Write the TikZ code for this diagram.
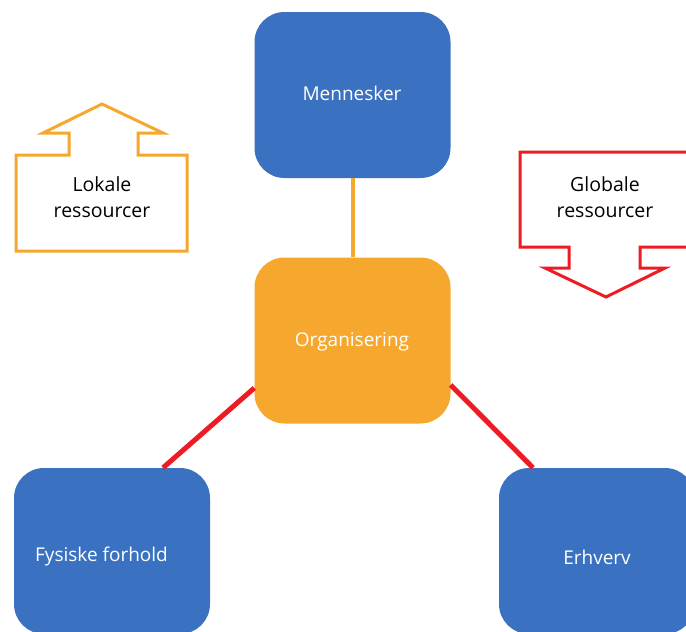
\documentclass[tikz,border=0pt]{standalone}
\usepackage{fontspec}
\setmainfont{Open Sans}
\definecolor{boxblue}{RGB}{58,114,193}
\definecolor{boxorange}{RGB}{246,167,45}
\definecolor{linered}{RGB}{237,28,36}
\begin{document}
\begin{tikzpicture}[x=1pt,y=-1pt,
  box/.style={rounded corners=30pt, minimum width=196pt, minimum height=166pt, inner sep=0pt},
  bluebox/.style={box, fill=boxblue},
  orangebox/.style={box, fill=boxorange},
  boxlabel/.style={text=white, font=\fontsize{19}{23}\selectfont, inner sep=0pt},
  arrowlabel/.style={text=black, font=\fontsize{19.5}{26}\selectfont, align=center, inner sep=0pt},
  redline/.style={draw=linered, line width=5pt},
  orangeline/.style={draw=boxorange, line width=4pt},
  bigarrow/.style={line width=3pt, line join=miter}
]
\useasboundingbox (0,0) rectangle (686,632);
% boxes
\node[bluebox] (M) at (352.5,95) {};
\node[orangebox] (O) at (352.5,340.5) {};
\node[bluebox] (F) at (112,551) {};
\node[bluebox] (E) at (597,551) {};
% labels
\node[boxlabel] (Mt) at (352,93) {Mennesker};
\node[boxlabel] (Ot) at (352,342) {Organisering};
\node[boxlabel] (Ft) at (101.5,557) {Fysiske forhold};
\node[boxlabel] (Et) at (597,557) {Erhverv};
% connectors
\draw[orangeline] (M.south) -- (O.north);
\draw[redline] ([yshift=-47.5pt]O.west) -- ([xshift=51pt]F.north);
\draw[redline] ([yshift=-44.5pt]O.east) -- ([xshift=-64pt]E.north);
% local resources arrow (up)
\draw[bigarrow, draw=boxorange] (16,155) -- (69,155) -- (69,133) -- (43,133) -- (102,104) -- (163,133) -- (138,133) -- (138,155) -- (187,155) -- (187,251) -- (16,251) -- cycle;
\node[arrowlabel] (L) at (102,197) {Lokale\\ressourcer};
% global resources arrow (down)
\draw[bigarrow, draw=linered] (520,152) -- (692,152) -- (692,247) -- (640,247) -- (640,268) -- (665,268) -- (606,297) -- (545,268) -- (569,268) -- (569,247) -- (520,247) -- cycle;
\node[arrowlabel] (G) at (605,197) {Globale\\ressourcer};
\end{tikzpicture}
\end{document}
